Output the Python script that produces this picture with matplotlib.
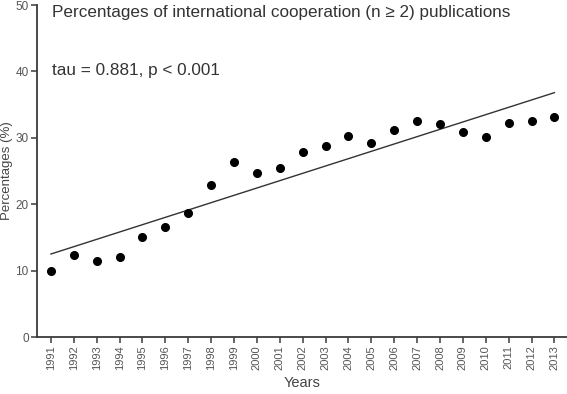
import matplotlib
matplotlib.use("Agg")
import matplotlib.pyplot as plt

years = list(range(1991, 2014))
percentages = [10.0, 12.4, 11.5, 12.0, 15.0, 16.6, 18.7, 22.9, 26.3, 24.7, 25.4,
               27.8, 28.8, 30.3, 29.2, 31.2, 32.5, 32.1, 30.8, 30.1, 32.2, 32.6, 33.2]
trend_years = [1991, 2013]
trend_values = [12.5, 36.8]
y_ticks = [0, 10, 20, 30, 40, 50]
title = "Percentages of international cooperation (n \u2265 2) publications"
stat_text = "tau = 0.881, p < 0.001"

plt.rcParams['font.family'] = ['Liberation Sans', 'DejaVu Sans']

fig = plt.figure(figsize=(5.67, 3.94), dpi=100)
ax = fig.add_axes([37/567, 1 - 337/394, 1 - 37/567, (337 - 5)/394])

axis_col = '#3a3a3a'
text_col = '#444444'

ax.plot(years, percentages, 'o', color='black', markersize=5.5, zorder=3)
ax.plot(trend_years, trend_values, '-', color='#333333', linewidth=1.0)

ax.set_xlim(1990.39, 2013.55)
ax.set_ylim(0, 50)
ax.set_yticks(y_ticks)
ax.set_xticks(years)
ax.set_xticklabels([str(y) for y in years], rotation=90, fontsize=8, color='#555555')
ax.set_yticklabels([str(v) for v in y_ticks], fontsize=8.5, color='#555555')

for s in ['top', 'right']:
    ax.spines[s].set_visible(False)
for s in ['left', 'bottom']:
    ax.spines[s].set_color(axis_col)
    ax.spines[s].set_linewidth(1.3)
ax.tick_params(axis='both', colors=axis_col, length=4, width=1.1, pad=2)
ax.tick_params(axis='x', labelcolor='#555555')
ax.tick_params(axis='y', labelcolor='#555555')

ax.set_xlabel("Years", fontsize=10.5, color=text_col, labelpad=4)
ax.set_ylabel("Percentages (%)", fontsize=9.5, color=text_col, labelpad=2)

fig.text(52/567, 1 - 12/394, title, fontsize=12.3, color='#333333', va='center', ha='left')
fig.text(52/567, 1 - 70/394, stat_text, fontsize=12.3, color='#333333', va='center', ha='left')

fig.savefig("out.png", dpi=100)
